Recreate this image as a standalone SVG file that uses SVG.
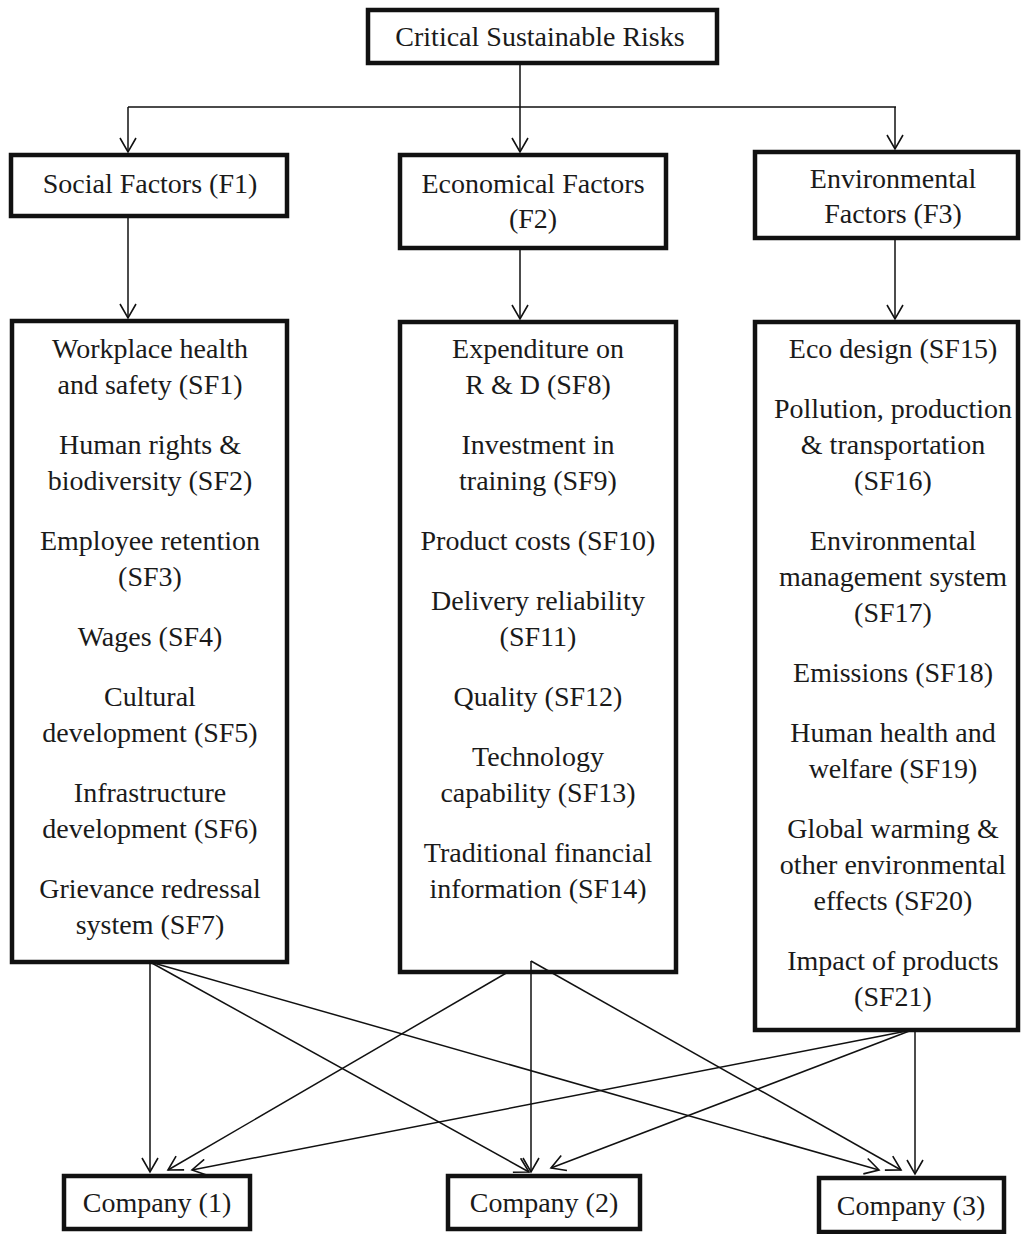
<svg xmlns="http://www.w3.org/2000/svg" width="1022" height="1234" viewBox="0 0 1022 1234">
<style>
.box{fill:#fff;stroke:#111;stroke-width:4.5}
.t{font-family:"Liberation Serif","Times New Roman",serif;font-size:28px;fill:#1a1a1a;text-anchor:middle}
.c{fill:none;stroke:#111;stroke-width:1.5}
</style>
<defs>
<marker id="ah" markerUnits="userSpaceOnUse" markerWidth="18" markerHeight="18" viewBox="0 0 18 18" refX="15" refY="9" orient="auto">
<path d="M1,1 L15,9 L1,17" fill="none" stroke="#111" stroke-width="1.6"/>
</marker>
</defs>
<rect width="1022" height="1234" fill="#fff"/>
<g id="root">
<rect class="box" x="368" y="10" width="349" height="53"/>
<text class="t" x="540" y="46">Critical Sustainable Risks</text>
</g>
<g id="f1">
<rect class="box" x="11" y="155" width="276" height="61"/>
<text class="t" x="150" y="193">Social Factors (F1)</text>
</g>
<g id="f2">
<rect class="box" x="400" y="155" width="266" height="93"/>
<text class="t" x="533" y="193">Economical Factors</text>
<text class="t" x="533" y="228">(F2)</text>
</g>
<g id="f3">
<rect class="box" x="755" y="152" width="263" height="86"/>
<text class="t" x="893" y="188">Environmental</text>
<text class="t" x="893" y="223">Factors (F3)</text>
</g>
<g id="list1">
<rect class="box" x="12" y="321" width="275" height="641"/>
<text class="t" x="150" y="358">Workplace health</text>
<text class="t" x="150" y="394">and safety (SF1)</text>
<text class="t" x="150" y="454">Human rights &amp;</text>
<text class="t" x="150" y="490">biodiversity (SF2)</text>
<text class="t" x="150" y="550">Employee retention</text>
<text class="t" x="150" y="586">(SF3)</text>
<text class="t" x="150" y="646">Wages (SF4)</text>
<text class="t" x="150" y="706">Cultural</text>
<text class="t" x="150" y="742">development (SF5)</text>
<text class="t" x="150" y="802">Infrastructure</text>
<text class="t" x="150" y="838">development (SF6)</text>
<text class="t" x="150" y="898">Grievance redressal</text>
<text class="t" x="150" y="934">system (SF7)</text>
</g>
<g id="list2">
<rect class="box" x="400" y="322" width="276" height="650"/>
<text class="t" x="538" y="358">Expenditure on</text>
<text class="t" x="538" y="394">R &amp; D (SF8)</text>
<text class="t" x="538" y="454">Investment in</text>
<text class="t" x="538" y="490">training (SF9)</text>
<text class="t" x="538" y="550">Product costs (SF10)</text>
<text class="t" x="538" y="610">Delivery reliability</text>
<text class="t" x="538" y="646">(SF11)</text>
<text class="t" x="538" y="706">Quality (SF12)</text>
<text class="t" x="538" y="766">Technology</text>
<text class="t" x="538" y="802">capability (SF13)</text>
<text class="t" x="538" y="862">Traditional financial</text>
<text class="t" x="538" y="898">information (SF14)</text>
</g>
<g id="list3">
<rect class="box" x="755" y="322" width="263" height="708"/>
<text class="t" x="893" y="358">Eco design (SF15)</text>
<text class="t" x="893" y="418">Pollution, production</text>
<text class="t" x="893" y="454">&amp; transportation</text>
<text class="t" x="893" y="490">(SF16)</text>
<text class="t" x="893" y="550">Environmental</text>
<text class="t" x="893" y="586">management system</text>
<text class="t" x="893" y="622">(SF17)</text>
<text class="t" x="893" y="682">Emissions (SF18)</text>
<text class="t" x="893" y="742">Human health and</text>
<text class="t" x="893" y="778">welfare (SF19)</text>
<text class="t" x="893" y="838">Global warming &amp;</text>
<text class="t" x="893" y="874">other environmental</text>
<text class="t" x="893" y="910">effects (SF20)</text>
<text class="t" x="893" y="970">Impact of products</text>
<text class="t" x="893" y="1006">(SF21)</text>
</g>
<g id="company1">
<rect class="box" x="64" y="1176" width="186" height="53"/>
<text class="t" x="157" y="1212">Company (1)</text>
</g>
<g id="company2">
<rect class="box" x="448" y="1176" width="192" height="53"/>
<text class="t" x="544" y="1212">Company (2)</text>
</g>
<g id="company3">
<rect class="box" x="819" y="1178" width="185" height="54"/>
<text class="t" x="911" y="1215">Company (3)</text>
</g>
<g id="connectors" class="c">
<path class="c" d="M520,63 V107 M128,107 H896"/>
<line class="c" x1="128" y1="107" x2="128" y2="152" marker-end="url(#ah)"/>
<line class="c" x1="520" y1="107" x2="520" y2="152" marker-end="url(#ah)"/>
<line class="c" x1="895" y1="107" x2="895" y2="149" marker-end="url(#ah)"/>
<line class="c" x1="128" y1="218" x2="128" y2="318" marker-end="url(#ah)"/>
<line class="c" x1="520" y1="250" x2="520" y2="319" marker-end="url(#ah)"/>
<line class="c" x1="895" y1="240" x2="895" y2="319" marker-end="url(#ah)"/>
<line class="c" x1="150" y1="962" x2="150" y2="1172" marker-end="url(#ah)"/>
<line class="c" x1="150" y1="962" x2="529" y2="1172" marker-end="url(#ah)"/>
<line class="c" x1="150" y1="962" x2="879" y2="1170" marker-end="url(#ah)"/>
<line class="c" x1="508" y1="972" x2="168" y2="1170" marker-end="url(#ah)"/>
<line class="c" x1="531" y1="961" x2="531" y2="1172" marker-end="url(#ah)"/>
<line class="c" x1="531" y1="961" x2="901" y2="1170" marker-end="url(#ah)"/>
<line class="c" x1="912" y1="1030" x2="192" y2="1170" marker-end="url(#ah)"/>
<line class="c" x1="912" y1="1030" x2="551" y2="1168" marker-end="url(#ah)"/>
<line class="c" x1="915" y1="1030" x2="915" y2="1174" marker-end="url(#ah)"/>
</g>
</svg>
